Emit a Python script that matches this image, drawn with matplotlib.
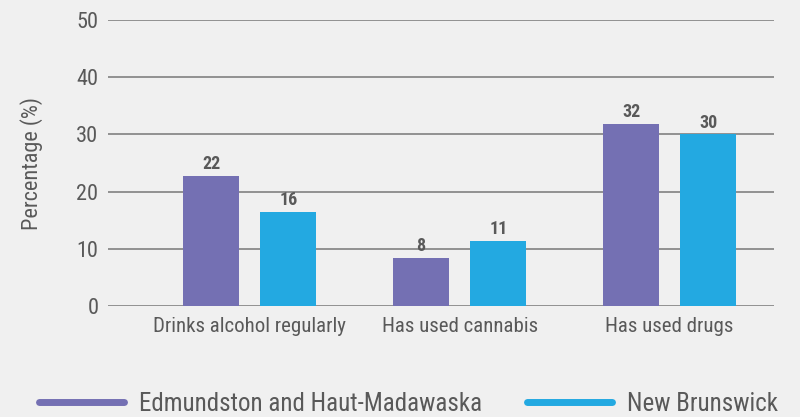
import matplotlib
matplotlib.use("Agg")
import matplotlib.pyplot as plt
import numpy as np
from matplotlib.lines import Line2D
from matplotlib import font_manager

# data
categories = ["Drinks alcohol regularly", "Has used cannabis", "Has used drugs"]
edmundston = [22.7, 8.4, 31.8]
new_brunswick = [16.4, 11.4, 30.0]
edmundston_labels = ["22", "8", "32"]
new_brunswick_labels = ["16", "11", "30"]
series_names = ["Edmundston and Haut-Madawaska", "New Brunswick"]

bg = "#f0f0f0"
purple = "#7470b3"
cyan = "#23a9e1"
txt = "#595959"

names = {f.name for f in font_manager.fontManager.ttflist}
narrow = [n for n in ["Liberation Sans Narrow", "Roboto Condensed"] if n in names]
plt.rcParams['font.family'] = narrow + ['Roboto', 'DejaVu Sans']

fig = plt.figure(figsize=(8, 4.17), dpi=100, facecolor=bg)
ax = fig.add_axes([108 / 800, 1 - 306 / 417, 666 / 800, 286 / 417])
ax.set_facecolor(bg)

x = np.arange(len(categories))
w = 0.267
off = 0.184
b1 = ax.bar(x - off, edmundston, w, color=purple, zorder=3)
b2 = ax.bar(x + off, new_brunswick, w, color=cyan, zorder=3)

for bars, labs in ((b1, edmundston_labels), (b2, new_brunswick_labels)):
    for bar, lab in zip(bars, labs):
        ax.annotate(lab, (bar.get_x() + bar.get_width() / 2, bar.get_height()),
                    xytext=(0, 2), textcoords="offset points",
                    ha="center", va="bottom", fontsize=13, fontweight="bold",
                    color=txt)

ax.set_ylim(0, 50)
ax.set_xlim(-0.675, 2.497)
ax.set_yticks(range(0, 51, 10))
ax.yaxis.grid(True, color="#8a8a8a", lw=1.3, zorder=0)
ax.set_axisbelow(True)
for s in ax.spines.values():
    s.set_visible(False)
ax.tick_params(axis="both", length=0, colors=txt)
ax.tick_params(axis="y", pad=7, labelsize=16)
ax.tick_params(axis="x", pad=8, labelsize=15)
ax.set_xticks(x)
ax.set_xticklabels(categories)
ax.set_ylabel("Percentage (%)", fontsize=16, color=txt, labelpad=24)

handles = [Line2D([0], [0], color=purple, lw=5, solid_capstyle="round"),
           Line2D([0], [0], color=cyan, lw=5, solid_capstyle="round")]
fig.legend(handles, series_names, loc="center", bbox_to_anchor=(0.511, 1 - 404 / 417),
           ncol=2, frameon=False, fontsize=18, labelcolor=txt,
           handlelength=3.4, handletextpad=0.6, columnspacing=1.8)

fig.savefig("out.png", dpi=100, facecolor=bg)
